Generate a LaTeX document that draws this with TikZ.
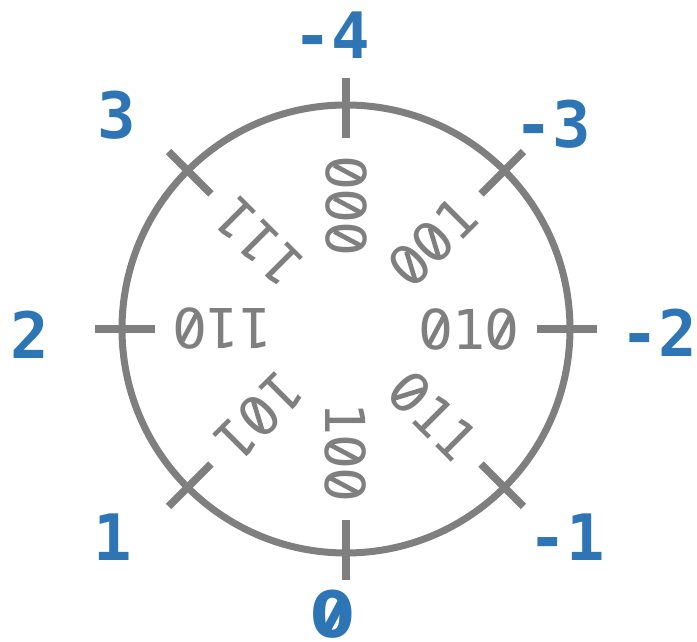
\documentclass[tikz,border=0pt]{standalone}
\usepackage{fontspec}
\newfontfamily\codefont{DejaVu Sans Mono}
\newfontfamily\plainsans{DejaVu Sans}
\definecolor{ringgray}{HTML}{7F7F7F}
\definecolor{labelblue}{HTML}{2E75B6}
% slashed zero: plain oval zero with a diagonal bar, in the width of a mono digit
\newcommand\slzero[2]{%
  \makebox[0.602em][c]{\plainsans 0}\hspace{-0.602em}%
  \makebox[0.602em][c]{\raisebox{0.364em}[0pt][0pt]{\rotatebox[origin=c]{62}{\rule[-#2]{#1}{#2}\rule[-#2]{0pt}{0pt}}}}}
\newcommand\zr{\slzero{0.58em}{0.085em}}
\newcommand\zb{\slzero{0.56em}{0.13em}}
\begin{document}
\begin{tikzpicture}[x=1pt,y=1pt,
  ring/.style={draw=ringgray,line width=7pt},
  tickmark/.style={draw=ringgray,line width=7.5pt},
  code/.style={text=ringgray,font=\codefont\fontsize{55}{55}\selectfont,inner sep=0pt},
  val/.style={text=labelblue,font=\codefont\bfseries\fontsize{64}{64}\selectfont,inner sep=0pt}]
\useasboundingbox (-346,-313) rectangle (351,329);
\coordinate (c) at (0,0);
\draw[ring] (c) circle (224);
\foreach \a in {0,45,...,315}{
  \coordinate (ti\a) at (\a:191);
  \coordinate (to\a) at (\a:251);
  \draw[tickmark] (ti\a) -- (to\a);
}
\foreach \a/\t in {0/{\zr1\zr},45/{\zr\zr1},90/{\zr\zr\zr},135/111,180/{11\zr},225/{1\zr1},270/{1\zr\zr},315/{\zr11}}{
  \node[code,rotate=\a] (code\a) at (\a:123) {\t};
}
\node[val] (vm4) at (-14,294) {-4};
\node[val] (vm3) at (207,205) {-3};
\node[val] (vm2) at (313,-4) {-2};
\node[val] (vm1) at (221,-208) {-1};
\node[val] (v0) at (-13,-285) {\zb};
\node[val] (v1) at (-233,-208) {1};
\node[val] (v2) at (-316,-6) {2};
\node[val] (v3) at (-229,214) {3};
\end{tikzpicture}
\end{document}
